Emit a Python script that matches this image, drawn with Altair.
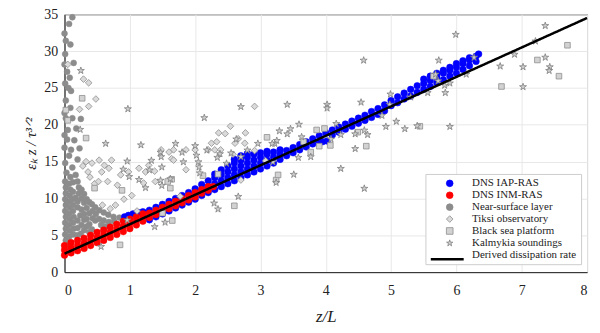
import altair as alt
import pandas as pd

SERIES = ["DNS IAP-RAS", "DNS INM-RAS", "Near-surface layer", "Tiksi observatory",
          "Black sea platform", "Kalmykia soundings", "Derived dissipation rate"]
FILLS = ["#0000ff", "#ff0000", "#8c8c8c", "#dadada", "#d2d2d2", "#cdcdcd", "#ffffff"]
STROKES = ["#0000ff", "#ff0000", "#8c8c8c", "#8f8f8f", "#8f8f8f", "#808080", "#ffffff"]
STAR = ("M0,-0.9L0.225,-0.21L0.951,-0.21L0.363,0.218L0.588,0.909L0,0.482"
        "L-0.588,0.909L-0.363,0.218L-0.951,-0.21L-0.225,-0.21Z")
SHAPES = ["circle", "circle", "circle", "diamond", "square", STAR, "circle"]

X_TICKS = [0, 1, 2, 3, 4, 5, 6, 7, 8]
Y_TICKS = [0, 5, 10, 15, 20, 25, 30, 35]

LINE_X = [0, 8]
LINE_Y = [2.5, 34.5]

NEAR = [
    (0.12, 34.6), (0.07, 33.7), (0.00, 32.4), (0.02, 31.4), (0.09, 30.9), (0.01, 29.6),
    (0.14, 28.4), (0.00, 28.2), (0.04, 27.2), (0.08, 26.4), (0.01, 25.6), (0.06, 25.0),
    (0.10, 24.6), (0.02, 23.3), (0.09, 22.3), (0.00, 21.6), (0.02, 20.9), (0.12, 20.9),
    (0.25, 20.8), (0.05, 19.3), (0.18, 19.5), (0.00, 18.6), (0.04, 18.0), (0.15, 17.9),
    (0.00, 16.9), (0.10, 16.6), (0.23, 16.8), (0.07, 15.8), (0.20, 15.3), (0.01, 14.8),
    (0.12, 14.2), (0.03, 13.5), (0.17, 13.2), (0.09, 12.9),
    (0.01, 12.3), (0.07, 12.0), (0.13, 12.2), (0.02, 11.5), (0.09, 11.2), (0.02, 10.7),
    (0.08, 10.4), (0.13, 10.9), (0.01, 9.9), (0.07, 9.6), (0.12, 9.9), (0.02, 9.1),
    (0.08, 8.8), (0.13, 9.1), (0.01, 8.3), (0.07, 8.0), (0.13, 8.3), (0.02, 7.5),
    (0.08, 7.2), (0.14, 7.5), (0.01, 6.7), (0.07, 6.4), (0.13, 6.7), (0.02, 5.9),
    (0.08, 5.6), (0.14, 5.9), (0.01, 5.1), (0.07, 4.8), (0.13, 5.1), (0.02, 4.3),
    (0.08, 4.0), (0.01, 3.5), (0.06, 3.2),
    (0.17, 10.1), (0.20, 9.6), (0.20, 8.8), (0.26, 8.5), (0.24, 7.7), (0.30, 7.9),
    (0.30, 7.1), (0.20, 7.0), (0.34, 7.2), (0.26, 6.4), (0.38, 6.5), (0.34, 6.2),
    (0.42, 5.8), (0.20, 6.0), (0.30, 5.7), (0.25, 5.2), (0.19, 5.0), (0.38, 5.4),
    (0.20, 12.3), (0.22, 11.5), (0.22, 10.7), (0.26, 11.2), (0.26, 10.0), (0.30, 10.6),
    (0.30, 9.4), (0.34, 9.9), (0.34, 8.7), (0.38, 9.5), (0.38, 8.0), (0.42, 9.2),
    (0.43, 7.3), (0.43, 8.3), (0.47, 8.8), (0.47, 7.0), (0.48, 7.9), (0.53, 8.4),
    (0.53, 7.2), (0.56, 6.4), (0.60, 8.1), (0.60, 7.0), (0.62, 6.2), (0.67, 7.8),
    (0.68, 6.8), (0.75, 7.5), (0.76, 6.9), (0.84, 7.4), (0.92, 7.4),
]

BLUE = [
    (0.92, 7.5), (0.98, 7.7), (1.05, 7.9), (1.12, 8.1), (1.20, 8.2),
    (1.3, 7.1), (1.3, 8.4), (1.4, 7.5), (1.4, 8.8), (1.5, 7.9), (1.5, 9.2),
    (1.6, 8.3), (1.6, 9.6), (1.7, 8.7), (1.7, 10.0), (1.8, 9.1), (1.8, 10.4),
    (1.9, 9.5), (1.9, 10.8), (2.0, 9.9), (2.0, 11.3),
    (2.1, 10.4), (2.1, 11.2), (2.1, 11.9),
    (2.2, 10.8), (2.2, 11.6), (2.2, 12.4),
    (2.3, 11.2), (2.3, 12.0), (2.3, 12.8), (2.3, 13.3),
    (2.4, 11.6), (2.4, 12.4), (2.4, 13.2), (2.4, 13.9),
    (2.5, 12.0), (2.5, 12.8), (2.5, 13.6), (2.5, 14.4),
    (2.6, 12.4), (2.6, 13.2), (2.6, 14.0), (2.6, 14.8), (2.6, 15.3),
    (2.7, 12.8), (2.7, 13.6), (2.7, 14.4), (2.7, 15.2), (2.7, 15.8),
    (2.8, 13.2), (2.8, 14.0), (2.8, 14.8), (2.8, 15.6), (2.8, 16.1),
    (2.9, 13.6), (2.9, 14.4), (2.9, 15.2), (2.9, 16.0),
    (3.0, 14.0), (3.0, 14.8), (3.0, 15.6), (3.0, 16.2),
    (3.1, 14.4), (3.1, 15.2), (3.1, 16.0), (3.1, 16.4),
    (3.2, 14.8), (3.2, 15.6), (3.2, 16.3),
    (3.3, 15.3), (3.3, 16.0), (3.3, 16.6),
    (3.4, 15.8), (3.4, 16.5), (3.5, 16.2), (3.5, 16.9), (3.6, 16.6), (3.6, 17.3),
    (3.7, 17.0), (3.7, 17.7), (3.8, 17.4), (3.8, 18.1), (3.9, 17.6), (3.9, 18.5),
    (3.95, 17.7), (4.02, 17.8), (4.0, 18.9), (4.1, 18.6), (4.1, 19.3), (4.2, 19.0),
    (4.2, 19.7), (4.3, 19.4), (4.3, 20.1), (4.4, 19.8), (4.4, 20.5), (4.5, 20.2),
    (4.5, 20.9), (4.6, 20.6), (4.6, 21.3), (4.7, 21.0), (4.7, 21.8), (4.8, 21.4),
    (4.8, 22.2), (4.9, 21.9), (4.9, 22.7),
    (5.0, 22.6), (5.0, 23.3), (5.1, 23.0), (5.1, 23.8), (5.2, 23.5), (5.2, 24.3),
    (5.3, 23.9), (5.3, 24.8), (5.4, 24.4), (5.4, 25.3), (5.5, 24.8), (5.5, 25.6),
    (5.5, 26.2), (5.6, 25.2), (5.6, 26.0), (5.6, 26.6), (5.7, 25.7), (5.7, 26.5),
    (5.7, 27.0), (5.8, 26.1), (5.8, 27.0), (5.8, 27.4), (5.9, 26.6), (5.9, 27.4),
    (5.9, 27.8), (6.0, 27.0), (6.0, 27.8), (6.0, 28.3), (6.1, 27.5), (6.1, 28.3),
    (6.1, 28.7), (6.2, 28.0), (6.2, 28.8), (6.2, 29.1), (6.3, 28.6), (6.3, 29.3),
    (6.34, 29.6),
]

RED = [
    (0.0, 2.3), (0.0, 3.0), (0.0, 3.6), (0.1, 2.6), (0.1, 3.3), (0.1, 4.0),
    (0.2, 2.9), (0.2, 3.6), (0.2, 4.3), (0.3, 3.2), (0.3, 3.9), (0.3, 4.6),
    (0.4, 3.6), (0.4, 4.3), (0.4, 5.0), (0.5, 4.0), (0.5, 4.7), (0.5, 5.4),
    (0.6, 4.3), (0.6, 5.0), (0.6, 5.7), (0.7, 4.7), (0.7, 5.4), (0.7, 6.1),
    (0.8, 5.1), (0.8, 5.8), (0.8, 6.5), (0.9, 5.5), (0.9, 6.2), (0.9, 6.9),
    (1.0, 5.9), (1.0, 6.6), (1.0, 7.2), (1.1, 6.4), (1.1, 7.0), (1.1, 7.5),
    (1.2, 6.9), (1.2, 7.5), (1.2, 7.9), (1.3, 7.4), (1.3, 8.0), (1.4, 7.8),
    (1.4, 8.4), (1.5, 8.2), (1.5, 8.8), (1.6, 8.6), (1.6, 9.2), (1.7, 9.0),
    (1.7, 9.6), (1.8, 9.4), (1.8, 10.0), (1.9, 9.8), (1.9, 10.4), (2.0, 10.2),
    (2.0, 10.8), (2.1, 10.7), (2.1, 11.2), (2.2, 11.1), (2.2, 11.6), (2.28, 11.6),
]

TIKSI = [
    (0.05, 28.2), (0.29, 26.2), (0.37, 25.7), (0.48, 23.5), (0.37, 22.5), (0.23, 22.1),
    (0.33, 15.0), (0.42, 14.8), (0.53, 15.2), (0.61, 14.5), (0.72, 15.2), (0.68, 14.1),
    (0.57, 13.6), (0.39, 12.9), (0.46, 12.0), (0.52, 12.3), (0.66, 12.3), (0.81, 11.8),
    (0.86, 13.2), (0.98, 13.6), (0.28, 14.4), (0.36, 13.6),
    (1.14, 14.1), (1.29, 14.5), (1.24, 13.6), (1.38, 13.7), (1.21, 12.1), (1.39, 12.3),
    (0.91, 9.9), (0.78, 9.1), (0.70, 8.6), (0.58, 9.1), (1.11, 8.3), (1.03, 10.4),
    (2.54, 19.8), (2.36, 18.9), (2.46, 18.8), (2.77, 18.9), (2.66, 18.1), (2.25, 17.5),
    (2.33, 17.7), (2.20, 16.6), (2.30, 16.6), (2.39, 16.6), (2.61, 17.5), (2.76, 17.5),
    (2.91, 16.5), (2.91, 22.5), (2.00, 16.6), (1.67, 16.6), (1.64, 15.4), (1.48, 16.6),
    (1.60, 16.3), (1.86, 16.6), (1.67, 15.2), (1.86, 13.9), (2.58, 16.0), (3.08, 15.1),
    (1.77, 10.3), (2.70, 12.5),
]

BLACKSEA = [
    (0.27, 23.6), (0.02, 22.0), (0.05, 20.6), (0.33, 18.2), (0.46, 11.4), (0.88, 11.1),
    (0.85, 3.7), (1.65, 7.0), (1.50, 8.0), (1.64, 12.6), (1.58, 12.3), (1.62, 11.4),
    (2.12, 13.1), (2.35, 13.3), (2.60, 9.0), (3.10, 18.3), (3.24, 12.5), (3.27, 13.2),
    (3.66, 17.7), (3.77, 16.3), (3.90, 17.1), (3.86, 19.3), (3.98, 19.5), (4.07, 17.2),
    (4.49, 19.0), (4.62, 17.1), (5.44, 19.8), (5.65, 26.6), (6.69, 25.2), (7.24, 28.8),
    (7.57, 26.6), (7.70, 30.8),
]

KALMYKIA = [
    (0.25, 27.4), (0.24, 19.4), (0.63, 17.5), (0.97, 22.2), (2.70, 22.5), (2.14, 21.0),
    (1.17, 17.3), (1.70, 17.5), (2.63, 18.1), (2.00, 17.2), (1.47, 16.3), (1.80, 16.3),
    (2.18, 16.6), (2.38, 16.1), (2.70, 15.7), (0.96, 15.1), (0.90, 14.0), (0.99, 13.0),
    (1.24, 11.5), (1.49, 11.8), (0.96, 7.1), (1.38, 6.2), (1.54, 6.8), (0.56, 3.5),
    (2.29, 9.4), (2.35, 8.6), (2.66, 10.3), (1.14, 12.6), (2.55, 16.2), (2.80, 16.6),
    (2.96, 17.5), (1.48, 15.7), (1.33, 15.2), (1.30, 13.9), (1.82, 15.0), (2.05, 15.0),
    (1.47, 12.5), (1.62, 12.7), (1.49, 14.3), (2.02, 15.9), (2.06, 14.3), (2.07, 13.5),
    (2.34, 15.6), (2.48, 14.8), (3.22, 17.5), (3.19, 15.0),
    (4.58, 28.8), (3.41, 22.8), (4.02, 22.8), (4.02, 22.3), (4.54, 23.1), (4.99, 24.2),
    (3.59, 20.1), (3.29, 19.2), (3.46, 19.5), (3.41, 18.8), (3.18, 17.5), (3.25, 17.9),
    (3.63, 18.4), (4.16, 20.2), (4.23, 18.7), (4.45, 18.8), (4.59, 19.3), (4.64, 18.7),
    (4.86, 21.3), (4.92, 19.8), (5.08, 20.5), (5.21, 19.5), (4.98, 22.8), (4.45, 16.8),
    (4.23, 14.1), (4.59, 11.4), (3.77, 15.7), (3.58, 15.6), (3.51, 13.3), (3.24, 12.2),
    (4.08, 18.1),
    (5.73, 28.8), (5.83, 24.4), (5.82, 25.4), (5.56, 24.4), (5.40, 19.9), (5.90, 19.8),
    (6.15, 26.9), (6.27, 29.2), (6.67, 28.0), (6.89, 29.6), (7.02, 27.9), (7.02, 25.2),
    (7.36, 29.2), (7.43, 27.9), (7.42, 27.4), (7.21, 31.4), (7.36, 33.5), (5.99, 32.3),
    (5.68, 26.9), (5.72, 26.0), (5.30, 23.8), (5.90, 25.7),
]


def frame(name, pts):
    return pd.DataFrame({"x": [p[0] for p in pts], "y": [p[1] for p in pts], "series": name})


FONT = "Liberation Serif"
LINE_NAME = SERIES[6]

legend = alt.Legend(
    title=None, orient="none", legendX=364, legendY=161,
    fillColor="white", strokeColor="#cccccc", padding=4, cornerRadius=0,
    labelFont=FONT, labelFontSize=11, labelColor="#222222",
    symbolSize=45, symbolStrokeWidth=0.8, symbolOffset=15, labelOffset=17,
    rowPadding=0, zindex=0,
)

line_legend = alt.Legend(
    title=None, orient="none", legendX=368, legendY=229,
    padding=0, labelExpr="''", labelFontSize=11,
    symbolSize=1100, symbolStrokeWidth=2.5, symbolStrokeColor="#000000", zindex=1,
)

fill_scale = alt.Scale(domain=SERIES, range=FILLS)
stroke_scale = alt.Scale(domain=SERIES, range=STROKES)
shape_scale = alt.Scale(domain=SERIES, range=SHAPES)

x_enc = alt.X("x:Q", scale=alt.Scale(domain=[0, 8], nice=False, zero=False),
              axis=alt.Axis(values=X_TICKS, title="z/L", titleFontStyle="italic",
                            labelPadding=12, titlePadding=11, format="d"))
y_enc = alt.Y("y:Q", scale=alt.Scale(domain=[0, 35], nice=False),
              axis=alt.Axis(values=Y_TICKS, title="εₖ z / τ³ᐟ²", titleFontStyle="italic",
                            titleFontSize=15, labelPadding=7, titlePadding=5, format="d"))


def points(name, pts, size, sw):
    return alt.Chart(frame(name, pts)).mark_point(
        filled=True, size=size, strokeWidth=sw, opacity=1, fillOpacity=1
    ).encode(
        x=x_enc, y=y_enc,
        fill=alt.Fill("series:N", scale=fill_scale, legend=legend),
        stroke=alt.Stroke("series:N", scale=stroke_scale, legend=legend),
        shape=alt.Shape("series:N", scale=shape_scale, legend=legend),
    )


line_df = pd.DataFrame({"x": LINE_X, "y": LINE_Y, "fit": LINE_NAME})
line = alt.Chart(line_df).mark_line(color="#000000", strokeWidth=2.5).encode(
    x=x_enc, y=y_enc,
    strokeDash=alt.StrokeDash("fit:N", scale=alt.Scale(domain=[LINE_NAME], range=[[1, 0]]),
                              legend=line_legend),
)

chart = alt.layer(
    points(SERIES[2], NEAR, 36, 0.5),
    points(SERIES[0], BLUE, 45, 0.5),
    points(SERIES[1], RED, 45, 0.5),
    points(SERIES[3], TIKSI, 45, 0.8),
    points(SERIES[4], BLACKSEA, 32, 0.8),
    points(SERIES[5], KALMYKIA, 55, 0.8),
    line,
).properties(
    width=527, height=260,
    background="white",
    autosize=alt.AutoSizeParams(type="none"),
    padding={"left": 57, "top": 5, "right": 5, "bottom": 55},
).configure_view(
    stroke="#262626", strokeWidth=1
).configure_axis(
    labelFont=FONT, labelFontSize=14, labelColor="#222222",
    titleFont=FONT, titleFontSize=17, titleFontWeight="normal", titleColor="#222222",
    gridColor="#e8e8e8", gridWidth=1, domainColor="#262626", ticks=False,
)

chart.save("out.html", embed_options={"renderer": "svg", "actions": False})
